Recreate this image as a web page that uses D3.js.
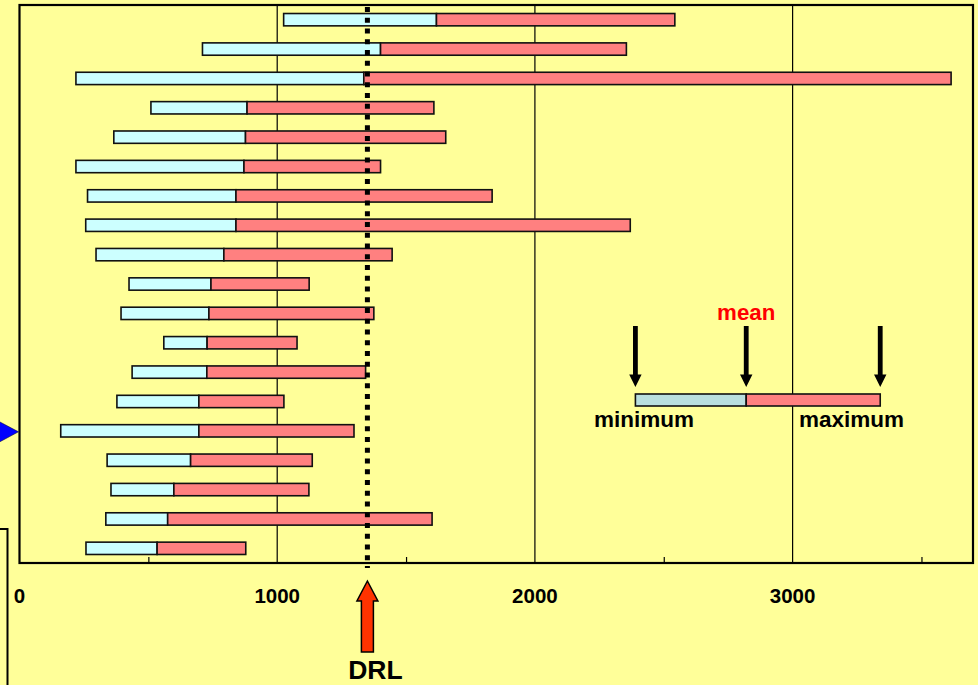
<!DOCTYPE html>
<html>
<head>
<meta charset="utf-8">
<script src="https://cdn.jsdelivr.net/npm/d3@7"></script>
<style>
  html, body { margin: 0; padding: 0; background: #ffff99; overflow: hidden; }
  svg { display: block; }
  text { font-family: "Liberation Sans", Arial, sans-serif; font-weight: bold; }
</style>
</head>
<body>
<svg id="chart" width="978" height="685"></svg>
<script>
// One row per site: minimum, mean and maximum dose
const categories = ["1","2","3","4","5","6","7","8","9","10","11","12","13","14","15","16","17","18","19"];
const minValues  = [1025, 710, 219, 510, 366, 219, 264, 257, 297, 425, 394, 560, 437, 378, 160, 340, 355, 335, 258];
const meanValues = [1618, 1401, 1336, 883, 877, 871, 840, 840, 793, 743, 735, 728, 727, 696, 696, 664, 599, 575, 534];
const maxValues  = [2543, 2355, 3615, 1608, 1654, 1401, 1834, 2370, 1446, 1124, 1375, 1077, 1343, 1026, 1298, 1136, 1123, 1601, 878];

const majorTicks = [0, 1000, 2000, 3000];
const minorTicks = [500, 1500, 2500, 3500];
const drlValue = 1350;
const markedCategory = "15";

// Key bar explaining the three values
const keyMin = 2390, keyMean = 2820, keyMax = 3340;
const keyLabels = { min: "minimum", mean: "mean", max: "maximum" };

const svg = d3.select("#chart");
const plot = { left: 19.5, right: 973, top: 5, bottom: 563 };

const x = d3.scaleLinear().domain([0, 3700]).range([plot.left, plot.right]);
const y = d3.scaleBand().domain(categories)
  .range([plot.top, plot.bottom]).paddingInner(0.58).paddingOuter(0.29);

const rows = categories.map((c, i) => ({ c, min: minValues[i], mean: meanValues[i], max: maxValues[i] }));

// plot background
svg.append("rect")
  .attr("x", plot.left).attr("y", plot.top)
  .attr("width", plot.right - plot.left).attr("height", plot.bottom - plot.top)
  .attr("fill", "#ffff99");

// vertical gridlines at the major ticks
svg.append("g").selectAll("line").data(majorTicks.filter(d => d > 0)).join("line")
  .attr("x1", d => x(d)).attr("x2", d => x(d))
  .attr("y1", plot.top).attr("y2", plot.bottom)
  .attr("stroke", "#000").attr("stroke-width", 1.2);

// bottom axis: minor ticks point inward, labels below
const axis = d3.axisBottom(x).tickValues(minorTicks).tickSize(-6).tickFormat("");
const gAxis = svg.append("g").attr("transform", `translate(0,${plot.bottom})`).call(axis);
gAxis.select(".domain").remove();
gAxis.selectAll(".tick line").attr("stroke", "#000").attr("stroke-width", 1.2);

svg.append("g").selectAll("text").data(majorTicks).join("text")
  .attr("x", d => x(d)).attr("y", 603)
  .attr("text-anchor", "middle")
  .attr("font-size", "20.5px").attr("fill", "#000")
  .text(d => d);

// bars: min→mean in light cyan, mean→max in salmon
const bars = svg.append("g");
bars.selectAll("rect.low").data(rows).join("rect")
  .attr("class", "low")
  .attr("x", d => x(d.min)).attr("y", d => y(d.c))
  .attr("width", d => x(d.mean) - x(d.min)).attr("height", y.bandwidth())
  .attr("fill", "#ccffff").attr("stroke", "#111").attr("stroke-width", 1.6);
bars.selectAll("rect.high").data(rows).join("rect")
  .attr("class", "high")
  .attr("x", d => x(d.mean)).attr("y", d => y(d.c))
  .attr("width", d => x(d.max) - x(d.mean)).attr("height", y.bandwidth())
  .attr("fill", "#ff8080").attr("stroke", "#111").attr("stroke-width", 1.6);

// frame
svg.append("rect")
  .attr("x", plot.left).attr("y", plot.top)
  .attr("width", plot.right - plot.left).attr("height", plot.bottom - plot.top)
  .attr("fill", "none").attr("stroke", "#000").attr("stroke-width", 2.2);

// DRL reference line
svg.append("line")
  .attr("x1", x(drlValue)).attr("x2", x(drlValue))
  .attr("y1", 7).attr("y2", 568)
  .attr("stroke", "#000").attr("stroke-width", 5)
  .attr("stroke-dasharray", "5,5.75");

// DRL arrow and label
const ax = x(drlValue);
svg.append("path")
  .attr("d", `M${ax},581 L${ax + 10.5},601 L${ax + 6},601 L${ax + 6},652 L${ax - 6},652 L${ax - 6},601 L${ax - 10.5},601 Z`)
  .attr("fill", "#ff3300").attr("stroke", "#000").attr("stroke-width", 1.5)
  .attr("stroke-linejoin", "miter");
svg.append("text")
  .attr("x", ax + 8).attr("y", 679)
  .attr("text-anchor", "middle").attr("font-size", "26.5px").attr("fill", "#000")
  .text("DRL");

// marker for the highlighted row
const my = y(markedCategory) + y.bandwidth() / 2 + 1;
svg.append("path")
  .attr("d", `M-4,${my - 12} L${plot.left - 1},${my} L-4,${my + 12} Z`)
  .attr("fill", "#0000ff").attr("stroke", "#000022").attr("stroke-width", 0.5);

// partly visible box at the lower left
svg.append("path")
  .attr("d", "M-2,529 L7.5,529 L7.5,690")
  .attr("fill", "none").attr("stroke", "#000").attr("stroke-width", 2);

// key
const keyTop = 394, keyH = 12;
svg.append("rect")
  .attr("x", x(keyMin)).attr("y", keyTop)
  .attr("width", x(keyMean) - x(keyMin)).attr("height", keyH)
  .attr("fill", "#b9dfdf").attr("stroke", "#111").attr("stroke-width", 1.6);
svg.append("rect")
  .attr("x", x(keyMean)).attr("y", keyTop)
  .attr("width", x(keyMax) - x(keyMean)).attr("height", keyH)
  .attr("fill", "#ff8080").attr("stroke", "#111").attr("stroke-width", 1.6);

svg.append("g").selectAll("path").data([keyMin, keyMean, keyMax]).join("path")
  .attr("d", d => {
    const cx = x(d);
    return `M${cx - 2.4},326 L${cx + 2.4},326 L${cx + 2.4},374.5 L${cx + 6.2},374.5 L${cx},387 L${cx - 6.2},374.5 L${cx - 2.4},374.5 Z`;
  })
  .attr("fill", "#000");

svg.append("text")
  .attr("x", x(keyMean)).attr("y", 320)
  .attr("text-anchor", "middle").attr("font-size", "22.3px").attr("fill", "#ff0000")
  .text(keyLabels.mean);
svg.append("text")
  .attr("x", 594).attr("y", 427)
  .attr("font-size", "22.5px").attr("fill", "#000")
  .text(keyLabels.min);
svg.append("text")
  .attr("x", 799).attr("y", 427)
  .attr("font-size", "22.5px").attr("fill", "#000")
  .text(keyLabels.max);
</script>
</body>
</html>
